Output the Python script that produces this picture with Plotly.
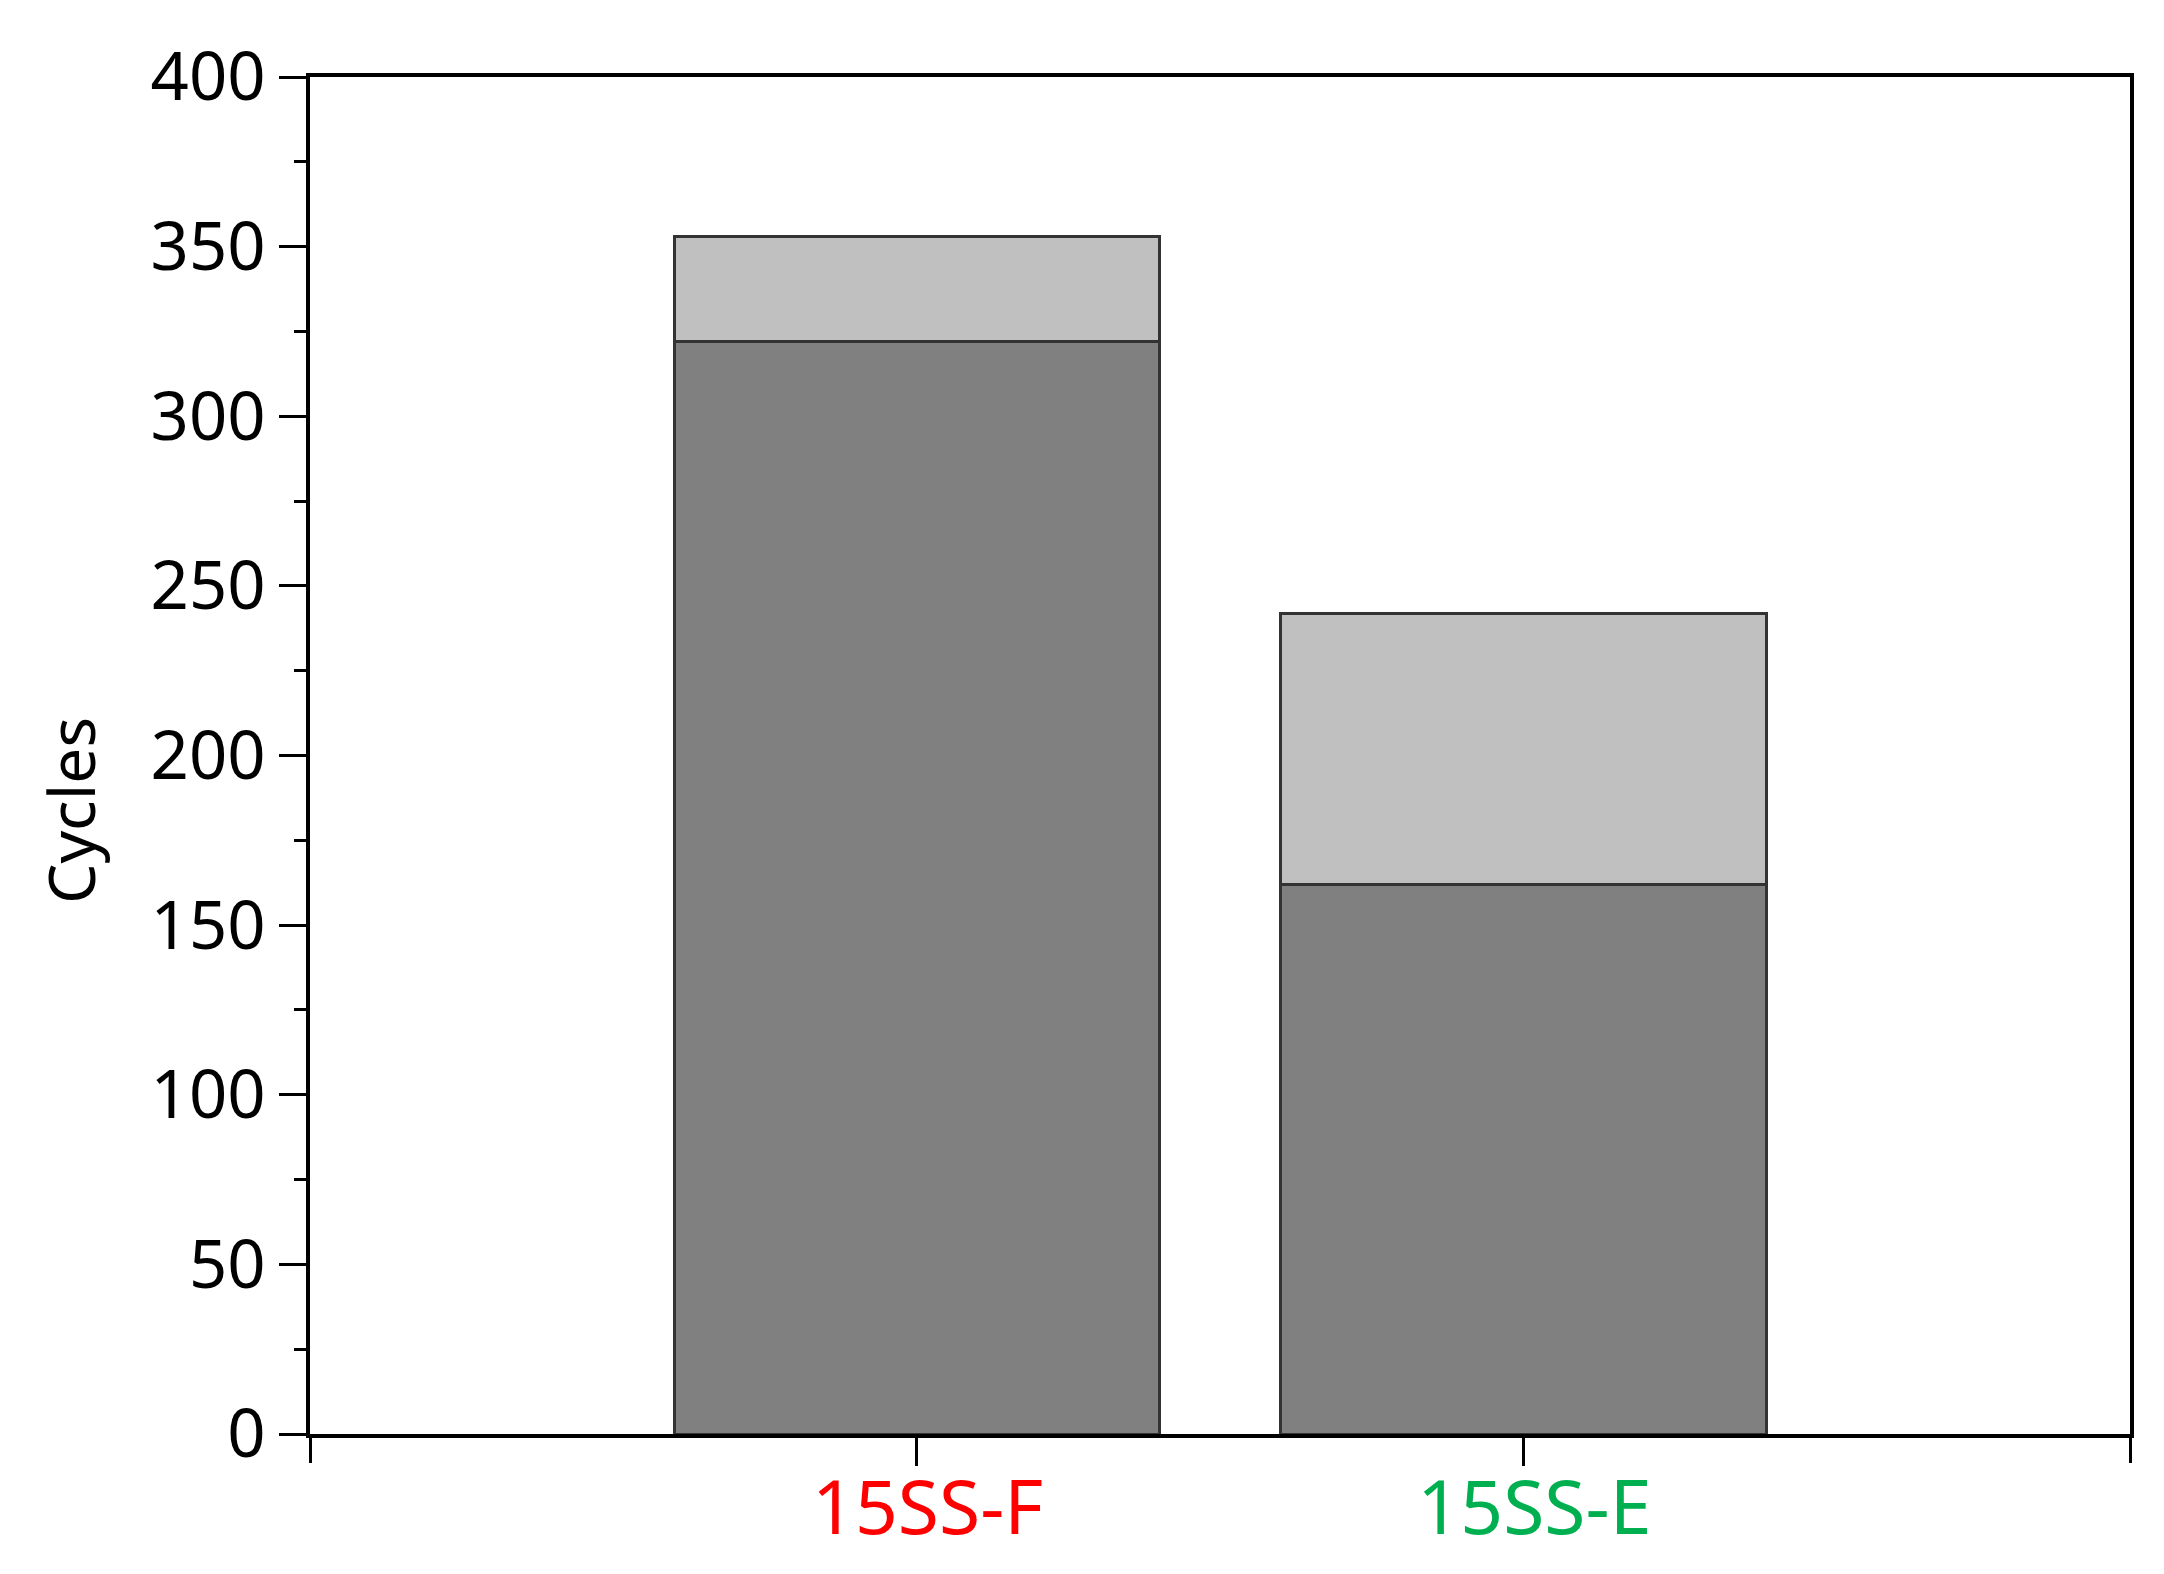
import plotly.graph_objects as go

categories = ["15SS-F", "15SS-E"]
label_colors = ["#FF0000", "#00B050"]
lower_values = [322, 162]   # dark grey segment
upper_values = [31, 80]     # light grey segment stacked on top
y_ticks = [0, 50, 100, 150, 200, 250, 300, 350, 400]

fig = go.Figure()
fig.add_trace(go.Bar(x=categories, y=lower_values, width=0.8,
                     marker=dict(color="#808080", line=dict(color="#333333", width=3)),
                     showlegend=False))
fig.add_trace(go.Bar(x=categories, y=upper_values, width=0.8,
                     marker=dict(color="#C0C0C0", line=dict(color="#333333", width=3)),
                     showlegend=False))

ticktext = [f"<span style='color:{c}'>{t}</span>" for t, c in zip(categories, label_colors)]

W, H = 2148, 1558
L, R, T, B = 302, 26, 69, 132

fig.update_layout(
    width=W, height=H,
    barmode="stack",
    plot_bgcolor="white", paper_bgcolor="white",
    margin=dict(l=L, r=R, t=T, b=B, autoexpand=False),
    font=dict(family="Noto Sans", color="black"),
    xaxis=dict(type="category", range=[-1, 2], tickvals=categories, ticktext=ticktext,
               ticks="outside", ticklen=28, tickwidth=3, tickcolor="black",
               showline=True, linecolor="black", linewidth=4, mirror=True,
               showgrid=False, tickfont=dict(size=75, family="Noto Sans"),
               zeroline=False, ticklabelstandoff=-22, ticklabelshift=11),
    xaxis2=dict(overlaying="x", anchor="y", side="bottom", range=[0, 3],
                tickvals=[0, 3], ticks="outside", ticklen=28, tickwidth=3,
                tickcolor="black", showticklabels=False, showgrid=False,
                showline=False, zeroline=False),
    yaxis=dict(range=[0, 400], tickvals=y_ticks, ticks="outside", ticklen=27,
               tickwidth=3, tickcolor="black", showline=True, linecolor="black",
               linewidth=4, mirror=True, showgrid=False, zeroline=False,
               tickfont=dict(size=67),
               minor=dict(ticks="outside", ticklen=12, tickwidth=3, dtick=25,
                          tickcolor="black", showgrid=False)),
    annotations=[dict(text="Cycles", textangle=-90, showarrow=False,
                      xref="paper", yref="paper",
                      x=(62 - L) / (W - L - R), y=(H - B - 803) / (H - B - T),
                      xanchor="center", yanchor="middle",
                      font=dict(size=64, family="Noto Sans", color="black"))],
)
# invisible trace to activate xaxis2
fig.add_trace(go.Scatter(x=[0, 3], y=[0, 0], xaxis="x2", mode="markers",
                         marker=dict(opacity=0), showlegend=False, hoverinfo="skip"))

fig.write_html("out.html")
